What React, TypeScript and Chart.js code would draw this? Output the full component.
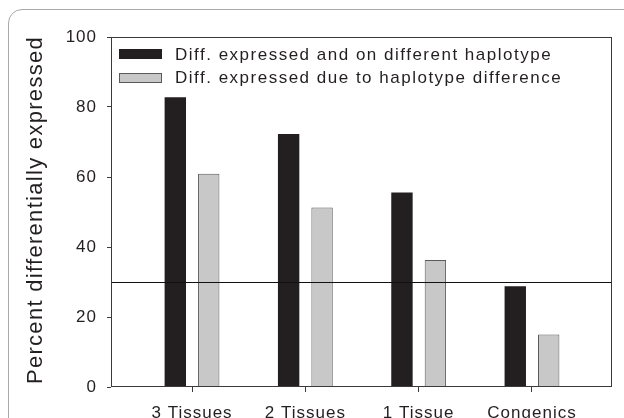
import React, { useEffect, useRef } from 'react';
import { Chart, registerables } from 'chart.js';

Chart.register(...registerables);

const categories = ['3 Tissues', '2 Tissues', '1 Tissue', 'Congenics'];
const haplotypeValues = [82.8, 72.3, 55.6, 28.8];
const differenceValues = [60.9, 51.3, 36.3, 15.0];
const seriesLabels = [
  'Diff. expressed and on different haplotype',
  'Diff. expressed due to haplotype difference',
];
const yTickValues = [0, 20, 40, 60, 80, 100];
const referenceLine = 30;
const yTitle = 'Percent differentially expressed';

const FONT = '"Liberation Sans", Arial, Helvetica, sans-serif';
const TEXT = '#231f20';
const BLACK = '#231f20';
const GRAY = '#c8c8c9';
const GRAY_BORDER = '#5a5a5a';

const decorPlugin = {
  id: 'decor',
  beforeDraw(chart: any) {
    (chart.ctx as any).letterSpacing = '1px';
  },
  afterDatasetsDraw(chart: any) {
    const { ctx, chartArea: a, scales } = chart;
    ctx.save();
    // reference line
    const ry = Math.round(scales.y.getPixelForValue(referenceLine)) + 0.5;
    ctx.strokeStyle = '#111';
    ctx.lineWidth = 1;
    ctx.beginPath();
    ctx.moveTo(a.left, ry);
    ctx.lineTo(a.right, ry);
    ctx.stroke();
    // frame
    ctx.strokeStyle = '#3a3a3a';
    ctx.strokeRect(Math.round(a.left) + 0.5, Math.round(a.top) + 0.5, Math.round(a.right - a.left) - 1, Math.round(a.bottom - a.top) - 1);
    // legend
    const fills = [BLACK, GRAY];
    const borders = [BLACK, GRAY_BORDER];
    const rowY = [54.3, 77.8];
    ctx.font = `17px ${FONT}`;
    (ctx as any).letterSpacing = '1.5px';
    ctx.textAlign = 'left';
    ctx.textBaseline = 'middle';
    seriesLabels.forEach((lab, i) => {
      const cy = a.top + rowY[i] - 37;
      const bx = 119;
      ctx.fillStyle = fills[i];
      ctx.fillRect(bx, Math.round(cy - 5), 43, 10);
      ctx.strokeStyle = borders[i];
      ctx.strokeRect(bx + 0.5, Math.round(cy - 5) + 0.5, 42, 9);
      ctx.fillStyle = TEXT;
      ctx.fillText(lab, 175, cy + 1);
    });
    // y title
    (ctx as any).letterSpacing = '1.3px';
    ctx.translate(36, 210);
    ctx.rotate(-Math.PI / 2);
    ctx.font = `22px ${FONT}`;
    ctx.textAlign = 'center';
    ctx.textBaseline = 'middle';
    ctx.fillStyle = TEXT;
    ctx.fillText(yTitle, 0, 0);
    ctx.restore();
  },
};

export default function App() {
  const ref = useRef<HTMLCanvasElement>(null);
  useEffect(() => {
    const canvas = ref.current!;
    const chart = new Chart(canvas, {
      type: 'bar',
      data: {
        datasets: [
          {
            label: seriesLabels[0],
            data: haplotypeValues.map((v, i) => ({ x: i + 1, y: v })),
            backgroundColor: BLACK,
            borderColor: BLACK,
            borderWidth: 0,
            categoryPercentage: 0.59,
            barPercentage: 0.64,
          },
          {
            label: seriesLabels[1],
            data: differenceValues.map((v, i) => ({ x: i + 1, y: v })),
            backgroundColor: GRAY,
            borderColor: GRAY_BORDER,
            borderWidth: 1,
            categoryPercentage: 0.59,
            barPercentage: 0.64,
          },
        ],
      },
      options: {
        animation: false,
        responsive: false,
        maintainAspectRatio: false,
        layout: { padding: { left: 0, top: 37, right: 12, bottom: 0 } },
        plugins: { legend: { display: false }, tooltip: { enabled: false } },
        scales: {
          x: {
            type: 'linear',
            offset: false,
            bounds: 'data',
            min: 0.285,
            max: 4.706,
            afterBuildTicks: (s: any) => {
              s.ticks = categories.map((_, i) => ({ value: i + 1 }));
            },
            afterFit: (s: any) => {
              s.height = 31;
            },
            ticks: {
              callback: (v: any) => categories[Number(v) - 1] ?? '',
              font: { family: FONT, size: 17 },
              color: TEXT,
              padding: 11,
              maxRotation: 0,
              autoSkip: false,
            },
            grid: { drawOnChartArea: false, drawTicks: true, tickLength: 5, tickColor: '#3a3a3a', offset: false },
            border: { display: false },
          },
          y: {
            min: 0,
            max: 100,
            afterBuildTicks: (s: any) => {
              s.ticks = yTickValues.map((v) => ({ value: v }));
            },
            afterFit: (s: any) => {
              s.width = 111;
            },
            ticks: {
              font: { family: FONT, size: 17 },
              color: TEXT,
              padding: 10,
            },
            grid: { drawOnChartArea: false, drawTicks: true, tickLength: 4, tickColor: '#3a3a3a' },
            border: { display: false },
          },
        },
      },
      plugins: [decorPlugin],
    } as any);
    return () => chart.destroy();
  }, []);

  return (
    <div style={{ position: 'fixed', left: 0, top: 0, width: 624, height: 418, overflow: 'hidden', background: '#fff' }}>
      <div
        style={{
          position: 'absolute',
          left: 8,
          top: 9,
          width: 700,
          height: 500,
          border: '1px solid #a9a9a9',
          borderTopLeftRadius: 14,
          boxSizing: 'border-box',
        }}
      />
      <canvas ref={ref} width={624} height={418} style={{ position: 'absolute', left: 0, top: 0, width: 624, height: 418 }} />
    </div>
  );
}
